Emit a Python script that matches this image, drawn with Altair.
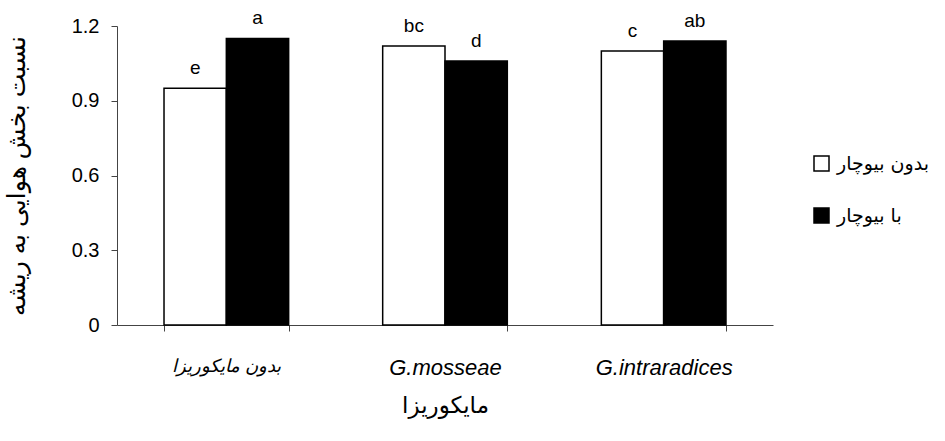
import altair as alt
import pandas as pd

# Mycorrhiza treatments on the x axis
mycorrhiza = ["بدون مایکوریزا", "G.mosseae", "G.intraradices"]
# Biochar series
biochar = ["بدون بیوچار", "با بیوچار"]
# Shoot-to-root ratio per treatment, one list per biochar level
without_biochar = [0.95, 1.12, 1.10]
with_biochar = [1.15, 1.06, 1.14]
# Mean-separation letters
letters_without = ["e", "bc", "c"]
letters_with = ["a", "d", "ab"]

rows = []
for i, m in enumerate(mycorrhiza):
    rows.append({"m": m, "b": biochar[0], "v": without_biochar[i], "lab": letters_without[i]})
    rows.append({"m": m, "b": biochar[1], "v": with_biochar[i], "lab": letters_with[i]})
df = pd.DataFrame(rows)

FONT = "Liberation Sans, DejaVu Sans, Arial, sans-serif"

x = alt.X(
    "m:N",
    sort=mycorrhiza,
    scale=alt.Scale(paddingInner=0.43, paddingOuter=0.215),
    axis=alt.Axis(
        title="مایکوریزا",
        titleFontSize=23,
        titleFontWeight="normal",
        titlePadding=16,
        labelAngle=0,
        # Latin species names a little larger than the Persian control label
        labelFontSize={"condition": {"test": "indexof(datum.label, 'G.') == 0", "value": 22}, "value": 18},
        labelFontStyle="italic",
        labelPadding=26,
        tickBand="extent",
        tickSize=6,
        tickColor="#444",
        domainColor="#444",
    ),
)
xoff = alt.XOffset("b:N", sort=biochar, scale=alt.Scale(paddingInner=0, paddingOuter=0))
y = alt.Y(
    "v:Q",
    scale=alt.Scale(domain=[0, 1.2], nice=False),
    axis=alt.Axis(
        title="نسبت بخش هوایی به ریشه",
        titleFontSize=25,
        titleFontWeight="normal",
        titlePadding=42,
        values=[0, 0.3, 0.6, 0.9, 1.2],
        format="~g",
        labelFontSize=20,
        labelPadding=12,
        tickSize=6,
        tickColor="#444",
        domainColor="#444",
        grid=False,
    ),
)

bars = alt.Chart(df).mark_bar(stroke="black", strokeWidth=1.5).encode(
    x=x,
    xOffset=xoff,
    y=y,
    fill=alt.Fill(
        "b:N",
        sort=biochar,
        scale=alt.Scale(domain=biochar, range=["white", "black"]),
        legend=alt.Legend(
            title=None,
            orient="none",
            legendX=695,
            legendY=128,
            symbolType="square",
            symbolSize=225,
            symbolStrokeColor="black",
            symbolStrokeWidth=1.5,
            labelFontSize=19,
            labelFont="DejaVu Sans",
            rowPadding=31,
            labelOffset=6,
        ),
    ),
)

labels = alt.Chart(df).mark_text(dy=-20, fontSize=19, font=FONT, color="black").encode(
    x=alt.X("m:N", sort=mycorrhiza),
    xOffset=alt.XOffset("b:N", sort=biochar),
    y=alt.Y("v:Q"),
    text="lab:N",
)

chart = (
    alt.layer(bars, labels)
    .properties(
        width=656,
        height=299,
        autosize=alt.AutoSizeParams(type="none"),
        padding={"left": 117, "top": 26, "right": 172, "bottom": 116},
    )
    .configure(font=FONT)
    .configure_view(stroke=None)
    .configure_axis(labelColor="black", titleColor="black", labelFont=FONT, titleFont=FONT)
)

chart.save("out.html", embed_options={"renderer": "svg", "actions": False})
